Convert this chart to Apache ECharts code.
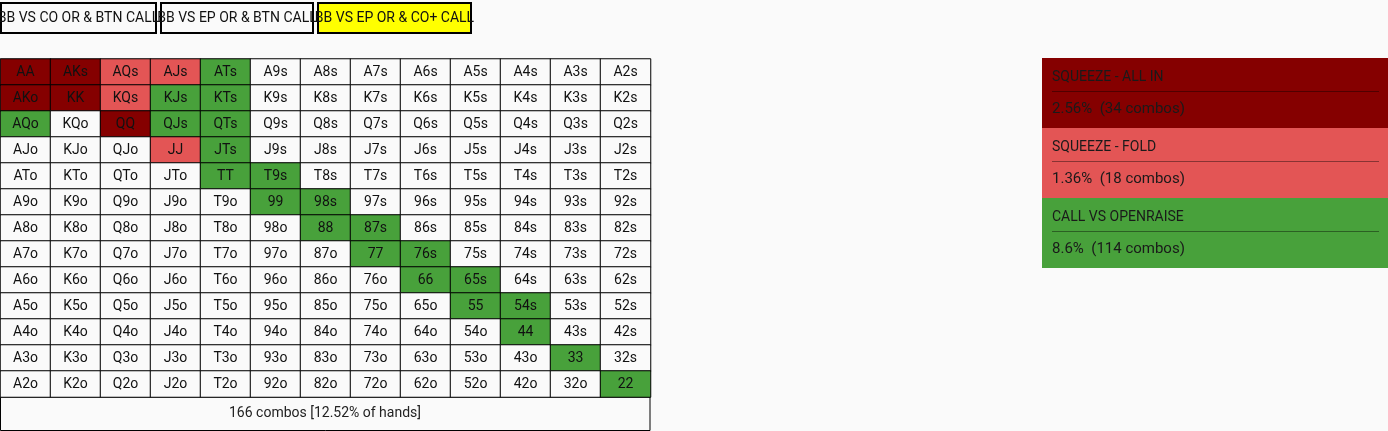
<!DOCTYPE html>
<html>
<head>
<meta charset="utf-8">
<script src="https://cdn.jsdelivr.net/npm/echarts@6/dist/echarts.min.js"></script>
<style>
html,body{margin:0;padding:0;background:#fafafa;}
#main{width:1388px;height:431px;}
</style>
</head>
<body>
<div id="main"></div>
<script>
var ranks = ['A','K','Q','J','T','9','8','7','6','5','4','3','2'];
var allInHands = ['AA','AKs','AKo','KK','QQ'];
var foldHands = ['AQs','AJs','KQs','JJ'];
var callHands = ['ATs','KJs','KTs','AQo','QJs','QTs','JTs','TT','T9s','99','98s','88','87s','77','76s','66','65s','55','54s','44','33','22'];
var buttons = ['BB VS CO OR & BTN CALL','BB VS EP OR & BTN CALL','BB VS EP OR & CO+ CALL'];
var legendNames = ['SQUEEZE - ALL IN','SQUEEZE - FOLD','CALL VS OPENRAISE'];
var legendStats = ['2.56%  (34 combos)','1.36%  (18 combos)','8.6%  (114 combos)'];
var footerText = '166 combos [12.52% of hands]';

var colAllIn = '#850000', colFold = '#e35555', colCall = '#48a13b', colNone = '#fafafa';

function handName(row, col){
  if(row === col) return ranks[row] + ranks[col];
  if(col > row) return ranks[row] + ranks[col] + 's';
  return ranks[col] + ranks[row] + 'o';
}
function handColor(h){
  if(allInHands.indexOf(h) >= 0) return colAllIn;
  if(foldHands.indexOf(h) >= 0) return colFold;
  if(callHands.indexOf(h) >= 0) return colCall;
  return colNone;
}

var data = [];
for(var r=0;r<13;r++){
  for(var c=0;c<13;c++){
    var h = handName(r,c);
    data.push({value:[c,r,1], name:h, itemStyle:{color:handColor(h)}});
  }
}

var graphics = [];
// buttons
var bx = [1,161,318], bw = [155,152,153];
buttons.forEach(function(t,i){
  graphics.push({type:'rect', shape:{x:bx[i],y:3,width:bw[i],height:30},
    style:{fill:i===2?'#ffff00':'#fafafa', stroke:'#000', lineWidth:2}});
  graphics.push({type:'text', x:bx[i]+bw[i]/2, y:18,
    style:{text:t, fill:'#111', font:'14px Roboto', align:'center', verticalAlign:'middle'}});
});
// legend
var legCols = [colAllIn,colFold,colCall];
legendNames.forEach(function(t,i){
  var y0 = 58 + i*70;
  graphics.push({type:'rect', shape:{x:1042,y:y0,width:346,height:70}, style:{fill:legCols[i]}});
  graphics.push({type:'text', x:1052, y:y0+19, style:{text:t, fill:'#1a1a1a', font:'14px Roboto', verticalAlign:'middle'}});
  graphics.push({type:'line', shape:{x1:1052,y1:y0+33.5,x2:1379,y2:y0+33.5}, style:{stroke:'rgba(0,0,0,0.4)', lineWidth:1}});
  graphics.push({type:'text', x:1052, y:y0+51, style:{text:legendStats[i], fill:'#1a1a1a', font:'15px Roboto', verticalAlign:'middle'}});
});
// footer
graphics.push({type:'rect', shape:{x:0.5,y:397,width:649.5,height:33.5}, style:{fill:'#fafafa', stroke:'#000', lineWidth:1}});
graphics.push({type:'text', x:325, y:413, style:{text:footerText, fill:'#222', font:'14px Roboto', align:'center', verticalAlign:'middle'}});

var chart = echarts.init(document.getElementById('main'));
chart.setOption({
  backgroundColor:'#fafafa',
  animation:false,
  grid:{left:0.5, top:59, width:650, height:338},
  xAxis:{type:'category', data:ranks, show:false},
  yAxis:{type:'category', data:ranks, inverse:true, show:false},
  series:[{
    type:'heatmap',
    data:data,
    itemStyle:{borderColor:'#000', borderWidth:1},
    label:{show:true, formatter:function(p){return p.name;}, color:'#111', fontFamily:'Roboto', fontSize:14},
    emphasis:{disabled:true}
  }],
  graphic:graphics
});
</script>
</body>
</html>
